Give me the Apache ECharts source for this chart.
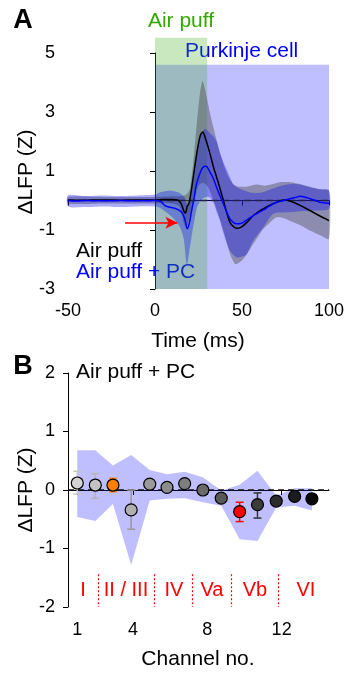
<!DOCTYPE html>
<html><head><meta charset="utf-8">
<script src="https://cdn.jsdelivr.net/npm/echarts@6/dist/echarts.min.js"></script>
<style>html,body{margin:0;padding:0;background:#fff}#c{width:348px;height:673px}</style>
</head><body><div id="c"></div>
<script>
// ---------- Panel A data ----------
const timeTicks = [-50, 0, 50, 100];
const puffWindow = [0, 30, 5.52];      // start, end, top (ms, ms, Z)
const pcWindow = [0, 100, 4.6];
const arrowPts = [[-17.2, -0.75], [12.9, -0.75]];

const apLine = [[-50,0.02],[-40,0.01],[-30,0.02],[-20,0.01],[-10,0.02],[0,0.02],[5,0.03],[10,0.03],[13,0.02],[15,-0.1],[16.5,-0.35],[17.5,-0.42],[18.5,-0.2],[19.5,-0.1],[20.5,0.2],[22,0.8],[24,1.6],[26,2.2],[27.4,2.32],[29,2.1],[31.6,1.59],[33.5,1.15],[35.4,0.79],[37.4,0.4],[39.3,0.0],[41.2,-0.4],[43.1,-0.74],[45,-0.88],[47,-0.94],[49,-0.92],[50.8,-0.85],[53.5,-0.7],[56.5,-0.51],[59.5,-0.38],[62.3,-0.28],[66,-0.16],[69.9,-0.06],[73.8,0.02],[76.5,0.0],[79.5,-0.06],[84,-0.18],[89,-0.34],[94,-0.5],[100,-0.68]];
const apUpper = [[-50,0.12],[-30,0.12],[-10,0.12],[0,0.12],[10,0.14],[15,0.15],[18,0.2],[20,0.4],[22,1.3],[24,2.6],[26,3.7],[27.4,4.05],[29.7,3.51],[31.5,3.0],[33.5,2.5],[35.4,2.05],[37.4,1.6],[39.3,1.25],[41.2,0.92],[43.1,0.7],[45,0.55],[48,0.47],[52.7,0.47],[58.5,0.54],[63,0.5],[67,0.55],[72,0.62],[78,0.62],[84,0.55],[90,0.45],[95,0.38],[100,0.34]];
const apLower = [[-50,-0.1],[-30,-0.1],[-10,-0.1],[0,-0.1],[10,-0.1],[14,-0.2],[16.5,-0.75],[18,-0.9],[19.5,-0.6],[21,-0.3],[23,0.1],[25,0.5],[27.4,0.6],[30,0.5],[33,0.1],[36,-0.4],[39.3,-1.0],[43.1,-1.81],[46,-2.15],[48,-2.12],[50.8,-1.98],[53.5,-1.75],[56.5,-1.47],[59.5,-1.2],[62.3,-0.96],[66,-0.75],[69.9,-0.57],[74,-0.6],[79.5,-0.74],[85,-0.88],[89,-1.02],[95,-1.18],[100,-1.3]];

const pcLine = [[-50,0.0],[-45,-0.02],[-40,0.0],[-30,-0.01],[-20,0.0],[-10,-0.01],[0,0.0],[3,-0.03],[5.7,-0.17],[8,-0.22],[10.5,-0.25],[13,-0.3],[15.3,-0.4],[17,-0.6],[18.6,-0.96],[19.8,-0.75],[21,-0.36],[22.5,0.1],[23.9,0.57],[26,0.95],[27.5,1.12],[29.3,1.16],[31.6,0.96],[33.5,0.75],[35.4,0.45],[37.4,0.15],[39.3,-0.11],[41.2,-0.4],[43.1,-0.62],[45,-0.74],[47,-0.79],[49,-0.78],[50.8,-0.74],[53.5,-0.63],[56.5,-0.51],[59.5,-0.41],[62.3,-0.32],[66,-0.18],[69.9,-0.06],[73.8,0.0],[77.6,0.06],[80.5,0.1],[83.3,0.14],[86,0.12],[89,0.06],[92,0.0],[94.8,-0.06],[97,-0.08],[100,-0.09]];
const pcUpper = [[-50,0.18],[-40,0.15],[-30,0.17],[-20,0.15],[-10,0.17],[0,0.2],[3,0.28],[8.6,0.34],[12,0.3],[14.4,0.25],[17,0.1],[19,-0.2],[20.5,0.1],[22,0.8],[24,1.6],[26,2.2],[28.6,2.42],[30.5,2.35],[33,2.2],[35.4,2.0],[37.4,1.6],[39.3,1.3],[41.2,1.05],[43,0.8],[45,0.55],[47,0.45],[50.8,0.35],[55,0.27],[60.4,0.26],[65,0.35],[69.9,0.45],[75,0.53],[79.5,0.57],[85,0.52],[89,0.45],[95,0.38],[100,0.34]];
const pcLower = [[-50,-0.2],[-40,-0.22],[-30,-0.2],[-20,-0.22],[-10,-0.2],[0,-0.2],[3,-0.25],[8.6,-0.5],[12,-0.7],[14.4,-0.91],[16.5,-1.3],[18.3,-2.2],[19.5,-1.8],[21.3,-1.13],[24.2,-0.23],[27,0.05],[29.7,0.13],[31.6,0.1],[33.5,-0.05],[35.4,-0.38],[37.4,-0.7],[39.3,-1.1],[43.1,-1.7],[47,-1.93],[50,-1.9],[52.7,-1.82],[56.5,-1.36],[62.3,-0.91],[68,-0.45],[75.7,-0.4],[82,-0.37],[89,-0.34],[100,-0.28]];

// ---------- Panel B data ----------
const channelTicks = [1, 4, 8, 12];
const channelX = [1, 1.97, 2.92, 3.9, 4.9, 5.83, 6.78, 7.76, 8.75, 9.74, 10.7, 11.71, 12.7, 13.63];
const chMean = [0.12, 0.085, 0.085, -0.34, 0.1, 0.045, 0.11, 0.0, -0.14, -0.37, -0.25, -0.19, -0.11, -0.15];
const chErrHi = [0.32, 0.28, 0.2, 0.0, null, null, null, null, null, -0.21, -0.05, null, null, null];
const chErrLo = [-0.07, -0.14, -0.03, -0.67, null, null, null, null, null, -0.54, -0.48, null, null, null];
const bandUpper = [0.68, 0.68, 0.42, 0.6, 0.34, 0.27, 0.31, 0.22, -0.01, 0.09, 0.33, -0.1, 0.03, 0.03];
const bandLower = [-0.46, -0.53, -0.24, -1.28, -0.18, -0.15, -0.14, -0.21, -0.27, -0.84, -0.87, -0.3, -0.27, -0.35];
const markerColors = ['#d2d2d2','#c2c2c2','#ff8000','#b0b0b0','#9a9a9a','#8c8c8c','#7e7e7e','#6a6a6a','#585858','#ff0000','#3c3c3c','#2c2c2c','#1c1c1c','#0a0a0a'];
const errColors = ['#c8c8c8','#b4b4b4','#ff8000','#999999',null,null,null,null,null,'#ff0000','#333333',null,null,null];
const layerNames = ['I', 'II / III', 'IV', 'Va', 'Vb', 'VI'];
const layerLabelX = [1.31, 3.62, 6.2, 8.25, 10.56, 13.31];
const layerBounds = [2.12, 5.15, 7.19, 9.31, 11.82];

const FONT = "'Liberation Sans', Arial, sans-serif";
const chart = echarts.init(document.getElementById('c'), null, {renderer: 'canvas'});

function bandRender(upper, lower, fill, smooth) {
  return function (params, api) {
    if (params.dataIndex !== 0) return;
    const pts = [];
    upper.forEach(p => pts.push(api.coord(p)));
    for (let i = lower.length - 1; i >= 0; i--) pts.push(api.coord(lower[i]));
    return {type: 'polygon', shape: {points: pts, smooth: smooth}, style: {fill: fill}};
  };
}

const axisCommon = {
  axisLine: {show: true, lineStyle: {color: '#000', width: 1}},
  axisTick: {show: true, length: 5, lineStyle: {color: '#000', width: 1}},
  axisLabel: {color: '#000', fontSize: 18, fontFamily: FONT},
  splitLine: {show: false}
};

const option = {
  animation: false,
  grid: [
    {left: 68, top: 53, width: 261, height: 236},
    {left: 68, top: 373, width: 261, height: 234}
  ],
  xAxis: [
    Object.assign({}, axisCommon, {type: 'value', gridIndex: 0, min: -50, max: 100, interval: 50,
      axisLabel: Object.assign({}, axisCommon.axisLabel, {margin: 13})}),
    Object.assign({}, axisCommon, {type: 'value', gridIndex: 1, min: 0.5, max: 14.55,
      axisTick: Object.assign({}, axisCommon.axisTick, {customValues: channelTicks}),
      axisLabel: Object.assign({}, axisCommon.axisLabel, {margin: 14, customValues: channelTicks})})
  ],
  yAxis: [
    Object.assign({}, axisCommon, {type: 'value', gridIndex: 0, min: -3, max: 5, interval: 2,
      axisLabel: Object.assign({}, axisCommon.axisLabel, {margin: 13})}),
    Object.assign({}, axisCommon, {type: 'value', gridIndex: 1, min: -2, max: 2, interval: 1,
      axisLabel: Object.assign({}, axisCommon.axisLabel, {margin: 13})})
  ],
  series: [
    { // stimulus windows
      type: 'custom', xAxisIndex: 0, yAxisIndex: 0, clip: false, z: 1, silent: true,
      data: [[pcWindow[0], pcWindow[1], pcWindow[2], 0], [puffWindow[0], puffWindow[1], puffWindow[2], 1]],
      renderItem: function (params, api) {
        const p0 = api.coord([api.value(0), api.value(2)]);
        const p1 = api.coord([api.value(1), -3]);
        const fill = api.value(3) === 1 ? 'rgba(60,170,20,0.27)' : 'rgba(0,0,255,0.25)';
        return {type: 'rect', shape: {x: p0[0], y: p0[1], width: p1[0] - p0[0], height: p1[1] - p0[1]}, style: {fill: fill}};
      }
    },
    {type: 'custom', xAxisIndex: 0, yAxisIndex: 0, z: 2, silent: true, data: [[0, 0]],
      renderItem: bandRender(apUpper, apLower, 'rgba(70,70,70,0.42)', 0.25)},
    {type: 'custom', xAxisIndex: 0, yAxisIndex: 0, z: 3, silent: true, data: [[0, 0]],
      renderItem: bandRender(pcUpper, pcLower, 'rgba(0,0,235,0.32)', 0.25)},
    {type: 'line', xAxisIndex: 0, yAxisIndex: 0, z: 4, data: [[-50, 0], [100, 0]], symbol: 'none',
      lineStyle: {color: '#20204a', width: 1.5, type: [7, 4]},
      markLine: {silent: true, symbol: ['none', 'arrow'], symbolSize: [9, 12],
        lineStyle: {color: '#ff0000', width: 1.5, type: 'solid'}, label: {show: false},
        data: [[{coord: arrowPts[0]}, {coord: arrowPts[1]}]]}},
    {type: 'line', xAxisIndex: 0, yAxisIndex: 0, z: 5, data: apLine, symbol: 'none', smooth: 0.3,
      lineStyle: {color: '#000', width: 1.5}},
    {type: 'line', xAxisIndex: 0, yAxisIndex: 0, z: 6, data: pcLine, symbol: 'none', smooth: 0.3,
      lineStyle: {color: '#0000ff', width: 1.5}},

    // Panel B
    {type: 'custom', xAxisIndex: 1, yAxisIndex: 1, z: 2, silent: true, data: [[1, 0]],
      renderItem: bandRender(channelX.map((x, i) => [x, bandUpper[i]]), channelX.map((x, i) => [x, bandLower[i]]), 'rgba(0,0,255,0.25)', 0)},
    {type: 'line', xAxisIndex: 1, yAxisIndex: 1, z: 3, data: [[0.5, 0], [14.55, 0]], symbol: 'none',
      lineStyle: {color: '#111', width: 1.3, type: [6, 4]},
      markLine: {silent: true, symbol: ['none', 'none'], label: {show: false},
        lineStyle: {color: '#ff0000', width: 1.2, type: [2, 2]},
        data: layerBounds.map(x => [{coord: [x, -1.44]}, {coord: [x, -2]}])},
      markPoint: {silent: true, symbol: 'rect', symbolSize: 1, itemStyle: {color: 'rgba(0,0,0,0)'},
        label: {show: true, position: 'inside', formatter: '{b}', color: '#ff0000', fontSize: 20, fontFamily: FONT},
        data: layerNames.map((n, i) => ({name: n, coord: [layerLabelX[i], -1.72]}))}},
    {type: 'custom', xAxisIndex: 1, yAxisIndex: 1, z: 4, silent: true,
      data: channelX.map((x, i) => [x, chErrHi[i], chErrLo[i], i]).filter(d => d[1] !== null),
      renderItem: function (params, api) {
        const hi = api.coord([api.value(0), api.value(1)]);
        const lo = api.coord([api.value(0), api.value(2)]);
        const c = errColors[api.value(3)];
        const w = 4;
        const st = {stroke: c, lineWidth: 1.5};
        return {type: 'group', children: [
          {type: 'line', shape: {x1: hi[0], y1: hi[1], x2: lo[0], y2: lo[1]}, style: st},
          {type: 'line', shape: {x1: hi[0] - w, y1: hi[1], x2: hi[0] + w, y2: hi[1]}, style: st},
          {type: 'line', shape: {x1: lo[0] - w, y1: lo[1], x2: lo[0] + w, y2: lo[1]}, style: st}
        ]};
      }},
    {type: 'scatter', xAxisIndex: 1, yAxisIndex: 1, z: 5, symbolSize: 12,
      data: channelX.map((x, i) => ({value: [x, chMean[i]], itemStyle: {color: markerColors[i]}})),
      itemStyle: {borderColor: '#000', borderWidth: 1.2, opacity: 1}}
  ],
  graphic: [
    {type: 'text', x: 23, y: 21, style: {text: 'A', font: 'bold 27px ' + FONT, fill: '#000', align: 'center', verticalAlign: 'middle'}},
    {type: 'text', x: 181, y: 21, style: {text: 'Air puff', font: '21px ' + FONT, fill: '#34a800', align: 'center', verticalAlign: 'middle'}},
    {type: 'text', x: 185, y: 51, style: {text: 'Purkinje cell', font: '21px ' + FONT, fill: '#0000ff', align: 'left', verticalAlign: 'middle'}},
    {type: 'text', x: 76, y: 251, style: {text: 'Air puff', font: '21px ' + FONT, fill: '#000', align: 'left', verticalAlign: 'middle'}},
    {type: 'text', x: 76, y: 272, style: {text: 'Air puff + PC', font: '21px ' + FONT, fill: '#0000ff', align: 'left', verticalAlign: 'middle'}},
    {type: 'text', x: 198, y: 341, style: {text: 'Time (ms)', font: '21px ' + FONT, fill: '#000', align: 'center', verticalAlign: 'middle'}},
    {type: 'text', x: 26, y: 172, rotation: Math.PI / 2, style: {text: 'ΔLFP (Z)', font: '21px ' + FONT, fill: '#000', align: 'center', verticalAlign: 'middle'}},
    {type: 'text', x: 23, y: 367, style: {text: 'B', font: 'bold 27px ' + FONT, fill: '#000', align: 'center', verticalAlign: 'middle'}},
    {type: 'text', x: 76, y: 372, style: {text: 'Air puff + PC', font: '21px ' + FONT, fill: '#000', align: 'left', verticalAlign: 'middle'}},
    {type: 'text', x: 26, y: 490, rotation: Math.PI / 2, style: {text: 'ΔLFP (Z)', font: '21px ' + FONT, fill: '#000', align: 'center', verticalAlign: 'middle'}},
    {type: 'text', x: 198, y: 659, style: {text: 'Channel no.', font: '21px ' + FONT, fill: '#000', align: 'center', verticalAlign: 'middle'}}
  ]
};
chart.setOption(option);
</script></body></html>
